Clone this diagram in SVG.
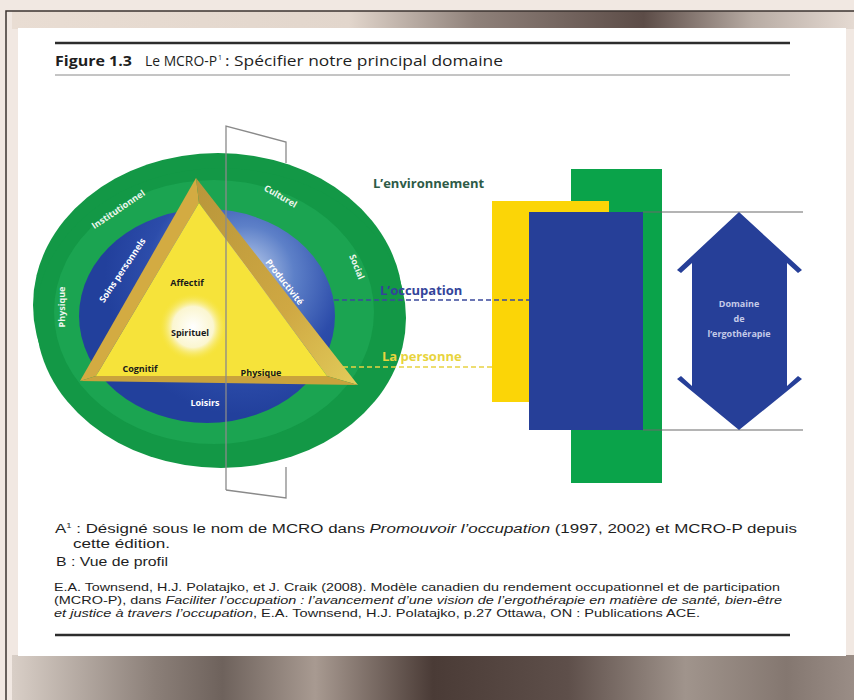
<svg xmlns="http://www.w3.org/2000/svg" width="854" height="700" viewBox="0 0 854 700">
<defs>
<style>
.t{font-family:"Open Sans","Liberation Sans",sans-serif}
.lbl{font-family:"Open Sans","Liberation Sans",sans-serif;font-weight:bold;font-size:9px}
.wl{fill:#eef6ee}
.bl{fill:#1a1a1a}
.note{font-family:"Liberation Sans","Open Sans",sans-serif;font-size:12.5px;fill:#1e1e1e}
.ref{font-family:"Liberation Sans","Open Sans",sans-serif;font-size:10.5px;fill:#1e1e1e}
.dash{stroke-width:1.6;stroke-dasharray:5 3;fill:none}
</style>
<linearGradient id="topband" x1="0" y1="0" x2="1" y2="0">
<stop offset="0" stop-color="#e9ddd3"/>
<stop offset="0.4" stop-color="#e2d6cc"/>
<stop offset="0.55" stop-color="#8f817a"/>
<stop offset="0.75" stop-color="#5c4c47"/>
<stop offset="0.88" stop-color="#b8aca4"/>
<stop offset="1" stop-color="#e5dad2"/>
</linearGradient>
<linearGradient id="botband" x1="0" y1="0" x2="1" y2="0">
<stop offset="0" stop-color="#d9cfc7"/>
<stop offset="0.17" stop-color="#8b7f78"/>
<stop offset="0.25" stop-color="#6e625c"/>
<stop offset="0.36" stop-color="#a89a91"/>
<stop offset="0.5" stop-color="#4a3b36"/>
<stop offset="0.66" stop-color="#5e4f4a"/>
<stop offset="0.8" stop-color="#a0948c"/>
<stop offset="0.92" stop-color="#847770"/>
<stop offset="1" stop-color="#9a8d86"/>
</linearGradient>
<radialGradient id="blueglow" cx="245" cy="275" r="140" gradientUnits="userSpaceOnUse">
<stop offset="0" stop-color="#c6d6f0"/>
<stop offset="0.35" stop-color="#5d80c8"/>
<stop offset="0.7" stop-color="#2c4caa"/>
<stop offset="1" stop-color="#22409c"/>
</radialGradient>
<radialGradient id="spirit" cx="193" cy="327" r="34" gradientUnits="userSpaceOnUse">
<stop offset="0" stop-color="#ffffff"/>
<stop offset="0.6" stop-color="#fbf6d0"/>
<stop offset="1" stop-color="#f6e43c" stop-opacity="0"/>
</radialGradient>
<linearGradient id="rbevel" x1="0" y1="0" x2="1" y2="1">
<stop offset="0" stop-color="#b8963a"/>
<stop offset="0.6" stop-color="#cfa843"/>
<stop offset="1" stop-color="#e2cc5a"/>
</linearGradient>
</defs>

<!-- frame -->
<rect x="0" y="0" width="854" height="700" fill="#f1e8e2"/>
<rect x="12" y="11" width="842" height="18" fill="url(#topband)"/>
<rect x="12" y="655" width="842" height="45" fill="url(#botband)"/>
<rect x="18" y="28" width="828" height="628" fill="#ffffff"/>
<path d="M6 700 V11 H854" fill="none" stroke="#3b3330" stroke-width="1.5"/>

<!-- title -->
<line x1="55" y1="43" x2="790" y2="43" stroke="#2c2c2c" stroke-width="2.5"/>
<text class="t" x="55" y="66" font-size="13.5" font-weight="bold" fill="#1e1e1e" textLength="77" lengthAdjust="spacingAndGlyphs">Figure 1.3</text>
<text class="t" x="145" y="66" font-size="14" fill="#1e1e1e" textLength="72" lengthAdjust="spacingAndGlyphs">Le MCRO-P</text>
<text class="t" x="218" y="60" font-size="7" fill="#1e1e1e">1</text>
<text class="t" x="225" y="66" font-size="14" fill="#1e1e1e" textLength="278" lengthAdjust="spacingAndGlyphs">: Spécifier notre principal domaine</text>
<line x1="55" y1="75" x2="790" y2="75" stroke="#8a8a8a" stroke-width="1"/>

<!-- disc -->
<g id="environnement">
<ellipse cx="218" cy="305" rx="185" ry="152" fill="#139846"/>
<ellipse cx="221" cy="318" rx="185" ry="150" fill="#139846"/>
<ellipse cx="214" cy="312" rx="160" ry="132" fill="#1ba451"/>
<text class="lbl wl" transform="translate(120,212) rotate(-34)" text-anchor="middle">Institutionnel</text>
<text class="lbl wl" transform="translate(279,199) rotate(30)" text-anchor="middle">Culturel</text>
<text class="lbl wl" transform="translate(354,268) rotate(68)" text-anchor="middle">Social</text>
<text class="lbl wl" transform="translate(65,307) rotate(-90)" text-anchor="middle">Physique</text>
</g>
<g id="occupation">
<ellipse cx="207" cy="316" rx="128" ry="107" fill="url(#blueglow)"/>
<text class="lbl" fill="#ffffff" transform="translate(125,272) rotate(-56)" text-anchor="middle">Soins personnels</text>
<text class="lbl" fill="#ffffff" transform="translate(282,284) rotate(52)" text-anchor="middle">Productivité</text>
<text class="lbl" fill="#ffffff" x="205" y="406" text-anchor="middle">Loisirs</text>
</g>
<g id="personne">
<polygon points="196,178 199,203 96,376 80,381" fill="#d3ab42"/>
<polygon points="196,178 358,385 327,376 199,203" fill="url(#rbevel)"/>
<polygon points="80,381 96,376 327,376 358,385" fill="#c9a33c"/>
<polygon points="199,203 327,376 96,376" fill="#f6e33a"/>
<circle cx="193" cy="327" r="34" fill="url(#spirit)"/>
<text class="lbl bl" x="187" y="286" text-anchor="middle">Affectif</text>
<text class="lbl bl" x="190" y="336" text-anchor="middle">Spirituel</text>
<text class="lbl bl" x="140" y="372" text-anchor="middle">Cognitif</text>
<text class="lbl bl" x="261" y="376" text-anchor="middle">Physique</text>
</g>
<g id="plan">
<path d="M226 490 V126 L286 142 V163" fill="none" stroke="#8a8a8a" stroke-width="1.3"/>
<path d="M226 490 L286 498 V467" fill="none" stroke="#8a8a8a" stroke-width="1.3"/>
</g>

<!-- profile view -->
<g id="rect-environnement"><rect x="571" y="169" width="91" height="314" fill="#0aa34a"/></g>
<g id="rect-personne"><rect x="492" y="201" width="117" height="201" fill="#fbd507"/></g>
<g id="rect-occupation"><rect x="529" y="212" width="114" height="218" fill="#263f98"/></g>

<g id="connectors">
<line x1="643" y1="212" x2="803" y2="212" stroke="#6a6a6a" stroke-width="1.2"/>
<line x1="643" y1="430" x2="803" y2="430" stroke="#6a6a6a" stroke-width="1.2"/>
<line class="dash" x1="334" y1="300" x2="529" y2="300" stroke="#3b4a9c"/>
<line class="dash" x1="343" y1="367" x2="492" y2="367" stroke="#e8d243"/>
</g>

<g id="labels">
<text class="t" x="373" y="188" font-size="13" font-weight="bold" fill="#2e5b47">L’environnement</text>
<text class="t" x="380" y="295" font-size="13" font-weight="bold" fill="#34449a">L’occupation</text>
<text class="t" x="382" y="361" font-size="13" font-weight="bold" fill="#e8d43e">La personne</text>
</g>

<g id="domaine">
<polygon points="739,212 802,270 798,273 787,263 787,386 798,376 802,379 739,430 677,379 681,376 692,386 692,263 681,273 677,270" fill="#263f98"/>
<text class="lbl" fill="#c4cae8" font-size="11" text-anchor="middle"><tspan x="739" y="307">Domaine</tspan><tspan x="739" y="322">de</tspan><tspan x="739" y="337">l’ergothérapie</tspan></text>
</g>

<!-- notes -->
<text class="note" x="55" y="533" textLength="742" lengthAdjust="spacingAndGlyphs">A<tspan font-size="7" dy="-5">1</tspan><tspan dy="5"> : Désigné sous le nom de MCRO dans </tspan><tspan font-style="italic">Promouvoir l’occupation</tspan> (1997, 2002) et MCRO-P depuis</text>
<text class="note" x="73" y="548" textLength="97" lengthAdjust="spacingAndGlyphs">cette édition.</text>
<text class="note" x="56" y="566" textLength="112" lengthAdjust="spacingAndGlyphs">B : Vue de profil</text>
<text class="ref" x="54" y="591" textLength="726" lengthAdjust="spacingAndGlyphs">E.A. Townsend, H.J. Polatajko, et J. Craik (2008). Modèle canadien du rendement occupationnel et de participation</text>
<text class="ref" x="54" y="604" textLength="728" lengthAdjust="spacingAndGlyphs">(MCRO-P), dans <tspan font-style="italic">Faciliter l’occupation : l’avancement d’une vision de l’ergothérapie en matière de santé, bien-être</tspan></text>
<text class="ref" x="54" y="617" textLength="646" lengthAdjust="spacingAndGlyphs"><tspan font-style="italic">et justice à travers l’occupation</tspan>, E.A. Townsend, H.J. Polatajko, p.27 Ottawa, ON : Publications ACE.</text>
<line x1="55" y1="635" x2="790" y2="635" stroke="#2c2c2c" stroke-width="2.5"/>
</svg>
